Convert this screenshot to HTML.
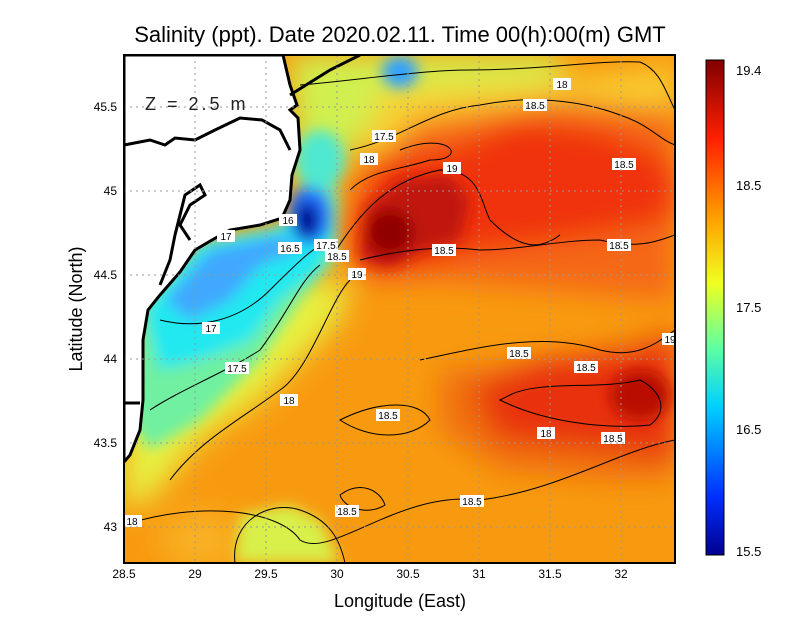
<!DOCTYPE html>
<html><head><meta charset="utf-8"><style>
html,body{margin:0;padding:0;background:#fff;width:800px;height:618px;overflow:hidden}
text{font-family:"Liberation Sans",sans-serif}
</style></head><body>
<svg width="800" height="618" viewBox="0 0 800 618" xmlns="http://www.w3.org/2000/svg">
<defs>
<filter id="b" x="-50%" y="-50%" width="200%" height="200%"><feGaussianBlur stdDeviation="14"/></filter>
<filter id="b2" x="-50%" y="-50%" width="200%" height="200%"><feGaussianBlur stdDeviation="7"/></filter>
<clipPath id="c"><rect x="124" y="55" width="551" height="508"/></clipPath>
<linearGradient id="cb" x1="0" y1="1" x2="0" y2="0">
<stop offset="0" stop-color="#00008f"/><stop offset="0.12" stop-color="#0030ff"/>
<stop offset="0.3" stop-color="#00d0ff"/><stop offset="0.42" stop-color="#60ffa0"/>
<stop offset="0.55" stop-color="#f0ff20"/><stop offset="0.68" stop-color="#ffa000"/>
<stop offset="0.84" stop-color="#ff2000"/><stop offset="1" stop-color="#800000"/>
</linearGradient>
</defs>
<g clip-path="url(#c)">
<rect x="124" y="55" width="551" height="508" fill="#f89a10"/>
<g filter="url(#b)">
<polygon fill="#e8f040" points="124,400 180,330 300,280 350,280 340,320 300,360 260,400 200,440 150,500 124,510"/>
<polygon fill="#d0f050" points="290,55 560,55 560,80 450,90 380,120 340,160 300,200"/>
<polygon fill="#f8d030" points="380,90 560,80 660,70 675,60 675,110 600,105 500,110 420,130 360,160"/>
<polygon fill="#f56818" points="420,120 560,100 675,110 675,300 560,290 440,280 360,280 340,240 360,170"/>
<polygon fill="#f03210" points="380,160 450,150 520,120 600,130 650,150 675,165 675,220 620,230 560,240 480,250 400,270 360,270 355,220"/>
<polygon fill="#f07010" points="440,370 560,360 675,330 675,480 600,480 500,470 440,430"/>
<polygon fill="#e83010" points="470,390 540,360 640,350 675,330 675,460 600,450 500,440"/>
<ellipse cx="200" cy="540" rx="40" ry="30" fill="#f8b020"/>
</g>
<g filter="url(#b2)">
<polygon fill="#d8f048" points="235,563 240,515 290,505 320,520 340,563"/>
<polygon fill="#70f0a0" points="140,300 200,240 280,225 330,170 340,200 335,260 300,300 260,360 200,420 150,450 130,420"/>
<polygon fill="#20e8f0" points="145,310 200,245 280,228 320,190 335,230 320,270 280,300 250,340 200,360 160,370"/>
<polygon fill="#40a8ff" points="165,300 210,250 280,235 300,250 260,265 230,300 190,320"/>
<ellipse cx="310" cy="215" rx="22" ry="30" fill="#2070ff"/>
<ellipse cx="307" cy="220" rx="12" ry="18" fill="#000090"/>
<ellipse cx="400" cy="72" rx="18" ry="16" fill="#30a0ff"/>
<ellipse cx="320" cy="160" rx="25" ry="30" fill="#50e8d0"/>
<polygon fill="#c01808" points="360,260 365,210 400,180 450,175 470,200 460,240 420,252 390,268"/>
<ellipse cx="390" cy="232" rx="22" ry="22" fill="#900000"/>
<ellipse cx="640" cy="395" rx="30" ry="25" fill="#b81000"/>
</g>
<polygon fill="#fff" stroke="#000" stroke-width="3" points="124,55 283,55 290,85 297,105 290,110 298,118 300,150 292,175 290,200 282,218 260,225 230,230 212,240 195,250 180,272 160,295 148,310 143,340 143,400 140,430 130,455 124,462"/>
<polyline fill="none" stroke="#000" stroke-width="3" points="124,145 150,140 165,145 175,138 195,140 215,130 240,118 262,120 280,130 290,150"/>
<polyline fill="none" stroke="#000" stroke-width="3" points="290,95 330,70 360,55"/>
<polyline fill="none" stroke="#000" stroke-width="3" points="124,403 140,403"/>
<polyline fill="none" stroke="#000" stroke-width="3" points="190,240 180,225 190,205 205,195 200,185 185,195 180,215 175,235 170,260 160,285"/>
<g fill="none" stroke="#000" stroke-width="1">
<path d="M300,85 C360,80 420,70 470,70 C540,70 600,60 640,62 C660,70 665,90 675,110"/>
<path d="M350,150 C400,140 430,110 480,105 C530,95 580,100 620,115 C650,125 660,140 675,145"/>
<path d="M330,260 C360,210 390,180 440,170 C480,170 480,200 490,220 C520,250 540,250 560,235"/>
<path d="M360,260 C400,250 440,245 480,250 C520,250 560,240 600,240 C640,250 660,240 675,235"/>
<path d="M350,190 C370,170 400,170 430,160 C470,160 450,130 400,150"/>
<path d="M160,320 C200,330 240,320 270,290 C300,260 320,240 330,245"/>
<path d="M150,410 C180,390 230,370 260,350 C290,310 300,280 320,265"/>
<path d="M170,480 C200,440 240,420 280,390 C310,370 330,300 350,280"/>
<path d="M420,360 C470,350 540,330 600,350 C640,360 660,340 675,330"/>
<path d="M500,400 C540,420 600,430 650,425 C670,410 660,390 640,380 C600,390 540,380 510,395 Z"/>
<path d="M340,420 C380,400 420,400 430,420 C410,440 370,440 340,420 Z"/>
<path d="M340,495 C360,480 380,490 385,505 C370,515 345,510 340,495 Z"/>
<path d="M124,525 C200,500 280,510 300,540 C330,560 400,490 480,500 C560,490 620,450 675,440"/>
<path d="M235,563 C230,520 270,500 300,510 C330,520 340,540 345,563"/>
</g>
<g font-size="10" text-anchor="middle">
<rect x="553" y="78" width="18" height="12" fill="#fff"/><text x="562" y="88">18</text>
<rect x="523" y="99" width="24" height="12" fill="#fff"/><text x="535" y="109">18.5</text>
<rect x="372" y="130" width="24" height="12" fill="#fff"/><text x="384" y="140">17.5</text>
<rect x="360" y="153" width="18" height="12" fill="#fff"/><text x="369" y="163">18</text>
<rect x="443" y="162" width="18" height="12" fill="#fff"/><text x="452" y="172">19</text>
<rect x="612" y="158" width="24" height="12" fill="#fff"/><text x="624" y="168">18.5</text>
<rect x="279" y="214" width="18" height="12" fill="#fff"/><text x="288" y="224">16</text>
<rect x="217" y="230" width="18" height="12" fill="#fff"/><text x="226" y="240">17</text>
<rect x="278" y="242" width="24" height="12" fill="#fff"/><text x="290" y="252">16.5</text>
<rect x="314" y="239" width="24" height="12" fill="#fff"/><text x="326" y="249">17.5</text>
<rect x="325" y="250" width="24" height="12" fill="#fff"/><text x="337" y="260">18.5</text>
<rect x="432" y="244" width="24" height="12" fill="#fff"/><text x="444" y="254">18.5</text>
<rect x="607" y="239" width="24" height="12" fill="#fff"/><text x="619" y="249">18.5</text>
<rect x="348" y="268" width="18" height="12" fill="#fff"/><text x="357" y="278">19</text>
<rect x="202" y="322" width="18" height="12" fill="#fff"/><text x="211" y="332">17</text>
<rect x="507" y="347" width="24" height="12" fill="#fff"/><text x="519" y="357">18.5</text>
<rect x="225" y="362" width="24" height="12" fill="#fff"/><text x="237" y="372">17.5</text>
<rect x="574" y="361" width="24" height="12" fill="#fff"/><text x="586" y="371">18.5</text>
<rect x="280" y="394" width="18" height="12" fill="#fff"/><text x="289" y="404">18</text>
<rect x="376" y="409" width="24" height="12" fill="#fff"/><text x="388" y="419">18.5</text>
<rect x="537" y="427" width="18" height="12" fill="#fff"/><text x="546" y="437">18</text>
<rect x="601" y="432" width="24" height="12" fill="#fff"/><text x="613" y="442">18.5</text>
<rect x="460" y="495" width="24" height="12" fill="#fff"/><text x="472" y="505">18.5</text>
<rect x="335" y="505" width="24" height="12" fill="#fff"/><text x="347" y="515">18.5</text>
<rect x="124" y="515" width="18" height="12" fill="#fff"/><text x="132" y="525">18</text>
<rect x="662" y="333" width="14" height="12" fill="#fff"/><text x="670" y="343">19</text>
</g>
<g stroke="#999" stroke-width="1" stroke-dasharray="2,4">
<line x1="195" y1="55" x2="195" y2="563"/><line x1="266" y1="55" x2="266" y2="563"/>
<line x1="337" y1="55" x2="337" y2="563"/><line x1="408" y1="55" x2="408" y2="563"/>
<line x1="479" y1="55" x2="479" y2="563"/><line x1="550" y1="55" x2="550" y2="563"/>
<line x1="621" y1="55" x2="621" y2="563"/>
<line x1="124" y1="107" x2="675" y2="107"/><line x1="124" y1="191" x2="675" y2="191"/>
<line x1="124" y1="275" x2="675" y2="275"/><line x1="124" y1="359" x2="675" y2="359"/>
<line x1="124" y1="443" x2="675" y2="443"/><line x1="124" y1="527" x2="675" y2="527"/>
</g>
<text x="145" y="110" font-size="18" fill="#222" letter-spacing="3">Z = 2.5 m</text>
</g>
<rect x="124" y="55" width="551" height="508" fill="none" stroke="#000" stroke-width="2"/>
<g font-size="12" text-anchor="middle">
<text x="124" y="578">28.5</text><text x="195" y="578">29</text><text x="266" y="578">29.5</text>
<text x="337" y="578">30</text><text x="408" y="578">30.5</text><text x="479" y="578">31</text>
<text x="550" y="578">31.5</text><text x="621" y="578">32</text>
</g>
<g font-size="12" text-anchor="end">
<text x="117" y="111">45.5</text><text x="117" y="195">45</text><text x="117" y="279">44.5</text>
<text x="117" y="363">44</text><text x="117" y="447">43.5</text><text x="117" y="531">43</text>
</g>
<text x="400" y="42" font-size="22" text-anchor="middle">Salinity (ppt). Date 2020.02.11. Time 00(h):00(m) GMT</text>
<text x="400" y="607" font-size="18" text-anchor="middle">Longitude (East)</text>
<text transform="translate(82,309) rotate(-90)" font-size="18" text-anchor="middle">Latitude (North)</text>
<rect x="706" y="60" width="18" height="495" fill="url(#cb)" stroke="#000" stroke-width="1"/>
<g font-size="13">
<text x="736" y="75">19.4</text><text x="736" y="190">18.5</text><text x="736" y="312">17.5</text>
<text x="736" y="434">16.5</text><text x="736" y="556">15.5</text>
</g>
</svg>
</body></html>
